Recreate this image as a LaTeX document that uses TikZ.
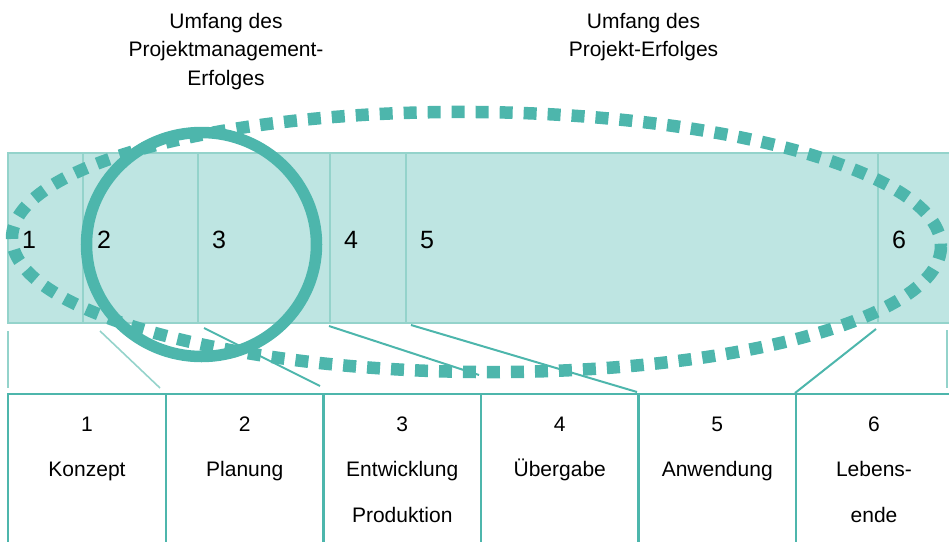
\documentclass[tikz,border=0pt]{standalone}
\usepackage{fontspec}
\setmainfont{Liberation Sans}
\definecolor{tealdark}{HTML}{4DB6AC}
\definecolor{tealfill}{HTML}{BEE5E2}
\definecolor{tealline}{HTML}{94D3CB}
\begin{document}
\begin{tikzpicture}[x=1pt,y=-1pt,
  hdr/.style={font=\fontsize{21}{25}\selectfont, anchor=base, inner sep=0pt},
  num/.style={font=\fontsize{25}{30}\selectfont, anchor=base west, inner sep=0pt},
  celltext/.style={font=\fontsize{21}{25}\selectfont, anchor=base, inner sep=0pt},
  barbox/.style={fill=tealfill, draw=tealline, line width=2pt},
  divider/.style={draw=tealline, line width=2pt},
  lightline/.style={draw=tealline, line width=1.6pt},
  darkline/.style={draw=tealdark, line width=2pt},
  gridline/.style={draw=tealdark, line width=2.5pt},
  ring/.style={draw=tealdark, line width=11.5pt},
  dotring/.style={draw=tealdark, line width=12.5pt, dash pattern=on 13pt off 11pt}]
\useasboundingbox (0,0) rectangle (949,541);

% bar
\draw[barbox] (8,153) rectangle (965,323);
\foreach \x in {83,198,330,406,878} \draw[divider] (\x,153) -- (\x,323);

% connector end points
\coordinate (b1) at (8,331);   \coordinate (t1) at (8,388);
\coordinate (b2) at (100,331); \coordinate (t2) at (160,388);
\coordinate (b3) at (204,328); \coordinate (t3) at (320,386);
\coordinate (b4) at (329,326); \coordinate (t4) at (479,375);
\coordinate (b5) at (411,325); \coordinate (t5) at (637,392);
\coordinate (b6) at (876,329); \coordinate (t6) at (795,393);
\coordinate (b7) at (947,330); \coordinate (t7) at (947,388);
\draw[lightline] (b1) -- (t1);
\draw[lightline] (b2) -- (t2);
\draw[darkline] (b3) -- (t3);
\draw[darkline] (b4) -- (t4);
\draw[darkline] (b5) -- (t5);
\draw[darkline] (b6) -- (t6);
\draw[lightline] (b7) -- (t7);

% table
\draw[gridline] (8,545) -- (8,394) -- (960,394);
\foreach \x in {166,323.5,481,638.5,796} \draw[gridline] (\x,394) -- (\x,545);

% circle and dotted ellipse
\draw[ring] (201.5,244.5) ellipse [x radius=115, y radius=112];
\draw[dotring, rotate around={-0.55:(476.5,242)}] (476.5,242) ellipse [x radius=464.5, y radius=130];

% headers
\node[hdr] (h1a) at (226,28) {Umfang des};
\node[hdr] (h1b) at (226,56.5) {Projektmanagement-};
\node[hdr] (h1c) at (226,85) {Erfolges};
\node[hdr] (h2a) at (643.5,28) {Umfang des};
\node[hdr] (h2b) at (643.5,56.5) {Projekt-Erfolges};

% bar numbers
\node[num] (n1) at (22,248) {1};
\node[num] (n2) at (97,248) {2};
\node[num] (n3) at (212,248) {3};
\node[num] (n4) at (344,248) {4};
\node[num] (n5) at (420,248) {5};
\node[num] (n6) at (892,248) {6};

% table texts
\node[celltext] (c1n) at (87,431) {1};
\node[celltext] (c1a) at (87,476) {Konzept};
\node[celltext] (c2n) at (244.75,431) {2};
\node[celltext] (c2a) at (244.75,476) {Planung};
\node[celltext] (c3n) at (402.25,431) {3};
\node[celltext] (c3a) at (402.25,476) {Entwicklung};
\node[celltext] (c3b) at (402.25,522) {Produktion};
\node[celltext] (c4n) at (559.75,431) {4};
\node[celltext] (c4a) at (559.75,476) {Übergabe};
\node[celltext] (c5n) at (717.25,431) {5};
\node[celltext] (c5a) at (717.25,476) {Anwendung};
\node[celltext] (c6n) at (874,431) {6};
\node[celltext] (c6a) at (874,476) {Lebens-};
\node[celltext] (c6b) at (874,522) {ende};
\end{tikzpicture}
\end{document}
